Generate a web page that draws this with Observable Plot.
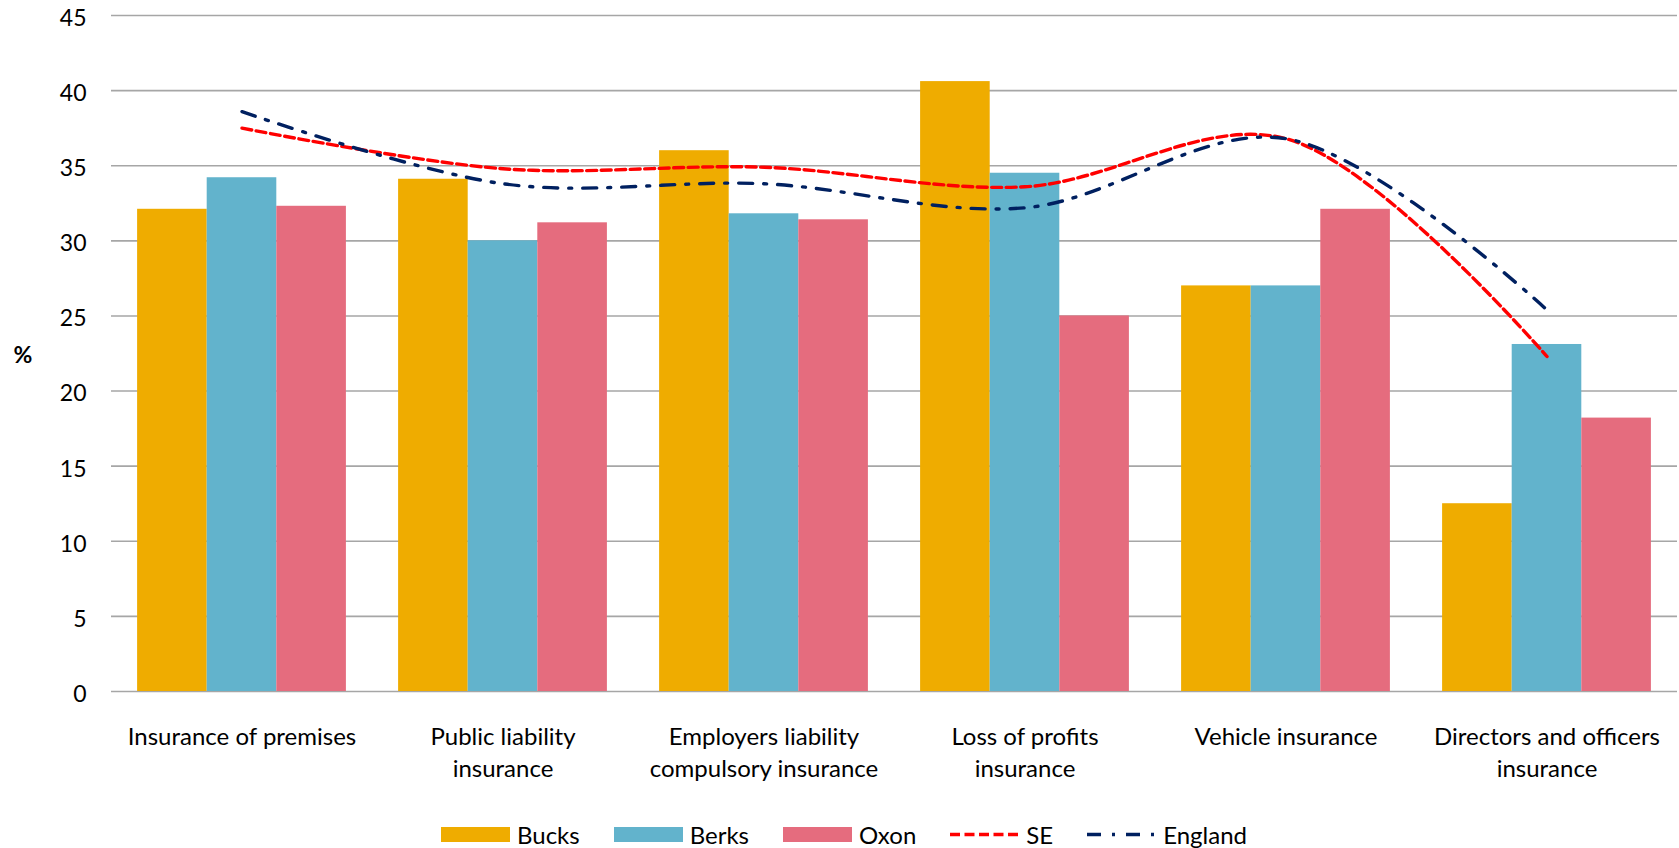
<!DOCTYPE html>
<html>
<head>
<meta charset="utf-8">
<script src="https://cdn.jsdelivr.net/npm/d3@7"></script>
<script src="https://cdn.jsdelivr.net/npm/@observablehq/plot@0.6"></script>
<style>
  html, body { margin: 0; padding: 0; background: #fff; }
  body { width: 1679px; height: 848px; position: relative; overflow: hidden; font-family: Lato, "Open Sans", sans-serif; }
  #chart { position: absolute; left: 0; top: 0; }
  #legend { position: absolute; left: 0; top: 821px; width: 1679px; height: 26px; display: flex; justify-content: center; align-items: center; gap: 34px; font-size: 24px; color: #000; padding-left: 9px; box-sizing: border-box; }
  .item { display: flex; align-items: center; gap: 7px; }
  .sw { width: 69px; height: 15px; }
</style>
</head>
<body>
<div id="chart"></div>
<div id="legend"></div>
<script>
const categories = [
  "Insurance of premises",
  "Public liability\ninsurance",
  "Employers liability\ncompulsory insurance",
  "Loss of profits\ninsurance",
  "Vehicle insurance",
  "Directors and officers\ninsurance"
];
const series = ["Bucks", "Berks", "Oxon"];
const bucks = [32.1, 34.1, 36.0, 40.6, 27.0, 12.5];
const berks = [34.2, 30.0, 31.8, 34.5, 27.0, 23.1];
const oxon = [32.3, 31.2, 31.4, 25.0, 32.1, 18.2];
const se = [37.5, 34.8, 34.9, 33.6, 36.8, 22.3];
const england = [38.6, 33.8, 33.8, 32.2, 36.8, 25.4];
const yTicks = [0, 5, 10, 15, 20, 25, 30, 35, 40, 45];
const colors = ["#EFAC00", "#62B3CC", "#E56C7E"];
const seColor = "#FF0000";
const englandColor = "#002060";

const seriesValues = [bucks, berks, oxon];
const groupWidth = 0.8;
const barW = groupWidth / series.length;
const bars = [];
categories.forEach((c, i) => {
  series.forEach((s, j) => {
    const x1 = i - groupWidth / 2 + j * barW;
    bars.push({i, series: s, value: seriesValues[j][i], x1, x2: x1 + barW});
  });
});
const seData = se.map((v, i) => ({i, value: v}));
const engData = england.map((v, i) => ({i, value: v}));

const W = 1679, H = 806;
const chart = Plot.plot({
  width: W,
  height: H,
  marginLeft: 111,
  marginRight: 2,
  marginTop: 15,
  marginBottom: 115,
  style: {fontFamily: "Lato, 'Open Sans', sans-serif", fontSize: "24px", color: "#000", background: "#fff"},
  x: {domain: [-0.5, categories.length - 0.5]},
  y: {domain: [0, 45]},
  color: {domain: series, range: colors},
  marks: [
    Plot.gridY(yTicks, {stroke: "#A6A6A6", strokeOpacity: 1, strokeWidth: 1.6}),
    Plot.rectY(bars, {x1: "x1", x2: "x2", y: "value", fill: "series"}),
    Plot.line(seData, {x: "i", y: "value", curve: "catmull-rom", stroke: seColor, strokeWidth: 3.4, strokeDasharray: "10,4.5"}),
    Plot.line(engData, {x: "i", y: "value", curve: "catmull-rom", stroke: englandColor, strokeWidth: 3.4, strokeDasharray: "14,11,3,11"}),
    Plot.axisY({ticks: yTicks, tickSize: 0, tickPadding: 25, fontSize: 23, dy: 3, label: null}),
    Plot.axisX({ticks: d3.range(categories.length), tickFormat: i => categories[i], tickSize: 0, tickPadding: 30, fontSize: 24, lineHeight: 1.35, lineAnchor: "top", label: null}),
    Plot.text(["%"], {frameAnchor: "left", dx: -98, dy: 2, text: d => d, fontWeight: "bold", fontSize: 23, textAnchor: "start"})
  ]
});
document.getElementById("chart").appendChild(chart);

const legend = document.getElementById("legend");
series.forEach((s, j) => {
  const it = document.createElement("div");
  it.className = "item";
  it.innerHTML = `<div class="sw" style="background:${colors[j]}"></div><span>${s}</span>`;
  legend.appendChild(it);
});
[["SE", seColor, "10,4.5"], ["England", englandColor, "14,11,3,11"]].forEach(([name, col, dash]) => {
  const it = document.createElement("div");
  it.className = "item";
  it.innerHTML = `<svg width="69" height="15"><line x1="0" x2="69" y1="7.5" y2="7.5" stroke="${col}" stroke-width="3.4" stroke-dasharray="${dash}"/></svg><span>${name}</span>`;
  legend.appendChild(it);
});
</script>
</body>
</html>
